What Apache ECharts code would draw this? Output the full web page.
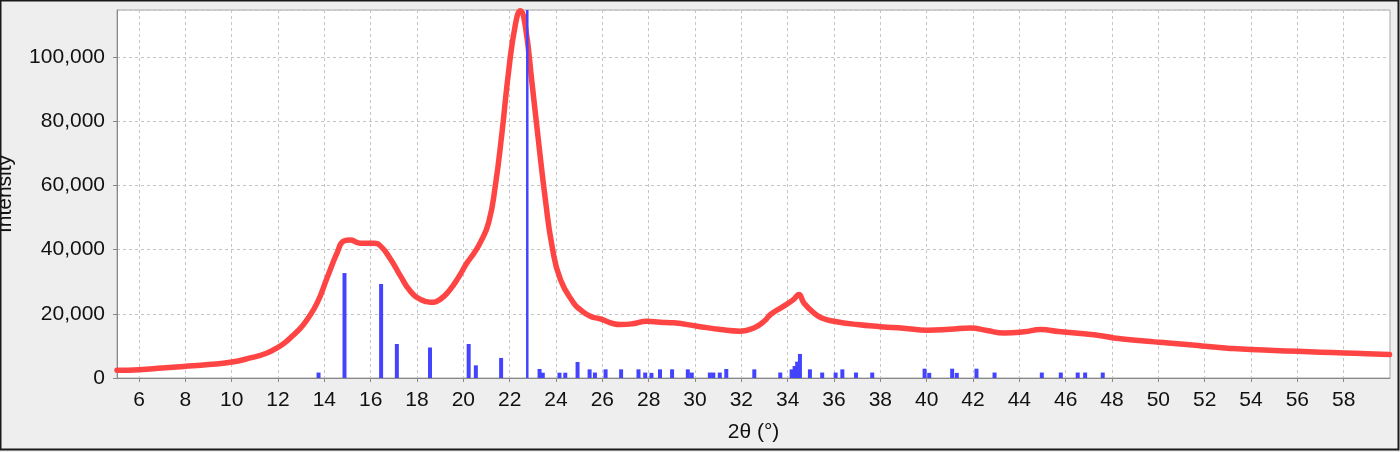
<!DOCTYPE html>
<html>
<head>
<meta charset="utf-8">
<script src="https://cdn.jsdelivr.net/npm/echarts@6/dist/echarts.min.js"></script>
<style>
html,body{margin:0;padding:0;background:#eeeeee;}
#chart{width:1400px;height:452px;}
</style>
</head>
<body>
<div id="chart"></div>
<script>
// ---- data ----
const xTicks = [6,8,10,12,14,16,18,20,22,24,26,28,30,32,34,36,38,40,42,44,46,48,50,52,54,56,58];

const patternX = [13.75,14.87,16.45,17.13,18.56,20.23,20.54,21.63,22.76,23.29,23.43,24.15,24.40,24.93,25.45,25.68,
  26.14,26.81,27.56,27.85,28.12,28.49,29.01,29.69,29.86,30.64,30.79,31.07,31.35,32.56,33.68,34.17,34.30,34.41,34.53,
  34.96,35.49,36.07,36.36,36.95,37.65,39.91,40.11,41.10,41.30,42.15,42.93,44.97,45.79,46.52,46.84,47.60];
const patternY = [1700,32700,29300,10600,9500,10600,3950,6250,120000,2800,1650,1650,1650,5000,2700,1700,
  2700,2700,2700,1700,1600,2700,2700,2700,1700,1700,1700,1700,2800,2700,1700,2700,3750,5100,7500,
  2700,1700,1700,2700,1700,1700,2900,1600,2900,1600,2900,1700,1700,1700,1700,1700,1700];

const curveX = [5.05,6.0,7.0,7.93,9.0,9.94,10.81,11.5,11.96,12.3,12.68,13.0,13.26,13.69,14.12,14.55,14.84,15.13,15.4,15.56,15.9,16.14,16.43,16.86,17.29,17.72,18.15,18.58,19.0,19.43,19.8,20.16,20.45,20.73,21.09,21.38,21.67,21.95,22.24,22.46,22.67,22.96,23.25,23.54,23.83,24.19,24.76,25.05,25.48,25.91,26.49,26.78,27.3,27.93,28.5,29.08,30.09,31.10,31.96,32.54,33.0,33.26,33.83,34.26,34.48,34.70,35.13,35.5,35.99,37.0,38.0,39.0,40.03,41.0,41.9,42.6,43.34,44.2,44.92,45.7,46.65,47.51,48.09,49.53,50.03,50.97,51.97,53.0,53.99,55.0,56.01,57.0,58.02,59.0,59.98];
const curveY = [2400,2600,3100,3600,4200,4900,6250,7700,9400,11000,13500,15800,18200,23400,31250,39000,42700,43000,42300,42000,42000,42000,41100,37000,31750,27000,24500,23600,24500,27600,31500,35900,38800,42200,48400,59900,76600,95300,109900,114500,109900,92200,73400,55700,41100,30700,23400,21300,19250,18400,16900,16650,16900,17700,17400,17200,16150,15100,14600,15600,17800,19800,22400,24500,26000,23400,20300,18600,17700,16650,16000,15500,14900,15200,15600,14800,14050,14400,15100,14500,13850,13200,12500,11450,11150,10600,9900,9300,8850,8600,8300,8050,7800,7550,7300];

// ---- chart ----
const chart = echarts.init(document.getElementById('chart'), null, {renderer:'canvas'});
const FONT = 'Liberation Sans, Arial, sans-serif';
const curveData = curveX.map((x,i)=>[x, curveY[i]]);
const barData = patternX.map((x,i)=>[x, patternY[i]]);

chart.setOption({
  backgroundColor: '#eeeeee',
  animation: false,
  graphic: [{
    type:'rect', shape:{x:0.5,y:0.5,width:1398,height:449},
    style:{fill:'none', stroke:'#1a1a1a', lineWidth:2}, silent:true, z:100
  }],
  grid: {left:117, right:10, top:10, bottom:74, containLabel:false, outerBoundsMode:'none',
    show:true, backgroundColor:'#ffffff', borderColor:'#a8a8a8', borderWidth:1},
  xAxis: {
    type:'value', min:5.05, max:60,
    name:'2θ (°)', nameLocation:'middle', nameGap:44,
    nameTextStyle:{fontFamily:FONT, fontSize:21, color:'#111'},
    axisLine:{show:true, onZero:false, lineStyle:{color:'#888888', width:1}},
    axisTick:{show:true, length:4, customValues:xTicks, lineStyle:{color:'#888888'}},
    axisLabel:{customValues:xTicks, fontFamily:FONT, fontSize:21, color:'#111', margin:12},
    splitLine:{show:true, lineStyle:{color:'#c4c4c4', type:[3,3], width:1}}
  },
  yAxis: {
    type:'value', min:0, max:114700, interval:20000,
    name:'Intensity', nameLocation:'middle', nameGap:101, nameRotate:90,
    nameTextStyle:{fontFamily:FONT, fontSize:21, color:'#111'},
    axisLine:{show:true, lineStyle:{color:'#888888', width:1}},
    axisTick:{show:true, length:4, lineStyle:{color:'#888888'}},
    axisLabel:{fontFamily:FONT, fontSize:21, color:'#111', margin:12, showMaxLabel:false,
      formatter: v => v.toLocaleString('en-US')},
    splitLine:{show:true, lineStyle:{color:'#c4c4c4', type:[3,3], width:1}}
  },
  series: [
    {
      type:'line', data:curveData, showSymbol:false, smooth:0.5,
      lineStyle:{color:'#ff4444', width:5.5, join:'round', cap:'round'}, z:2, clip:true
    },
    {
      type:'custom', data:barData, z:3,
      renderItem: function(params, api){
        const x = api.value(0), y = api.value(1);
        const top = api.coord([x, y]);
        const bot = api.coord([x, 0]);
        const cs = params.coordSys;
        const t = Math.max(top[1], cs.y);
        const w = y > 100000 ? 2.5 : 4;
        return {type:'rect', shape:{x: top[0]-w/2, y: t, width: w, height: bot[1]-t},
          style:{fill:'#4444ff'}};
      }
    }
  ]
});
</script>
</body>
</html>
